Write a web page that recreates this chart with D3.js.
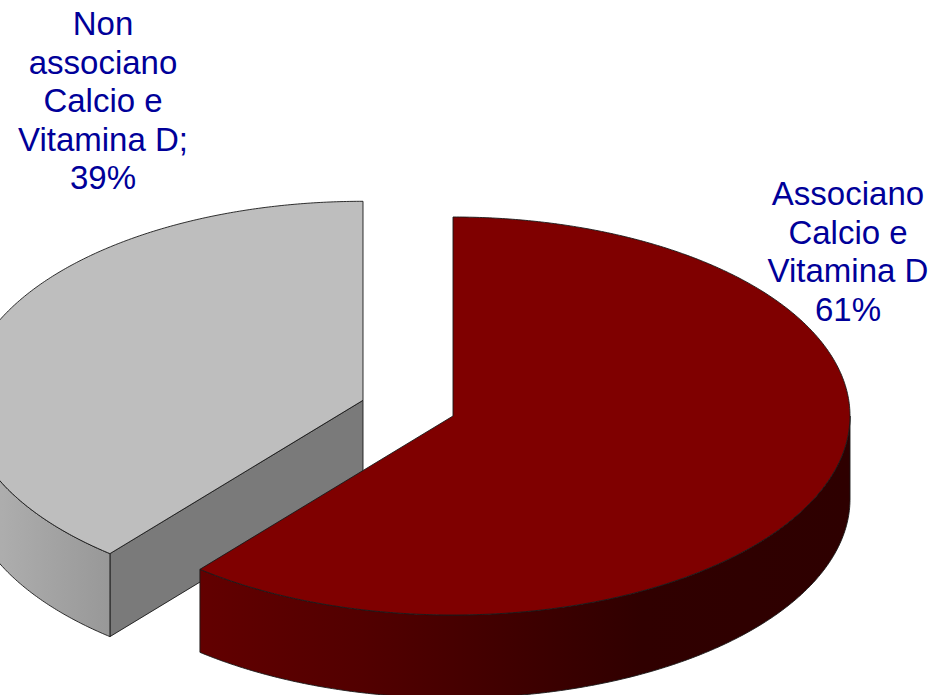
<!DOCTYPE html>
<html>
<head>
<meta charset="utf-8">
<script src="https://cdn.jsdelivr.net/npm/d3@7/dist/d3.min.js"></script>
<style>
html,body{margin:0;padding:0;background:#fff;overflow:hidden}
svg{display:block}
text{font-family:"Liberation Sans",Arial,sans-serif;font-size:33px;fill:#000099;text-anchor:middle}
</style>
</head>
<body>
<script>
// Share of respondents in each group
const categories = ["Associano Calcio e Vitamina D", "Non associano Calcio e Vitamina D"];
const shares = [61, 39];
const labelLines = [
  ["Associano", "Calcio e", "Vitamina D", "61%"],
  ["Non", "associano", "Calcio e", "Vitamina D;", "39%"]
];
const topColors = ["#7f0000", "#bebebe"];
const cutColors = ["#5c0000", "#7a7a7a"];
const wallStops = [
  [[0, "#620000"], [0.25, "#520000"], [0.5, "#3e0000"], [0.68, "#300000"], [1, "#2e0000"]],
  [[0, "#b4b4b4"], [1, "#989898"]]
];

const width = 933, height = 695;
const rx = 397, ry = 199, depth = 83;
const centers = [[453, 416], [363, 400.3]];
const labelAnchors = [[848, 205], [103, 35]];
const lineStep = 38.6;

const svg = d3.select("body").append("svg").attr("width", width).attr("height", height);
const defs = svg.append("defs");

const arcs = d3.pie().sort(null).value(d => d)(shares);

// Tilted-disc projection: angle is clockwise from twelve o'clock
const project = (c, a, dz = 0) => [c[0] + rx * Math.sin(a), c[1] - ry * Math.cos(a) + dz];
const rimPoints = (c, a0, a1, dz = 0) => {
  const n = Math.max(2, Math.ceil(Math.abs(a1 - a0) * 120));
  return d3.range(n + 1).map(i => project(c, a0 + (a1 - a0) * i / n, dz));
};
const line = d3.line();
const outline = { stroke: "#1a1a1a", width: 0.9 };

const style = sel => sel
  .attr("stroke", outline.stroke)
  .attr("stroke-width", outline.width)
  .attr("stroke-linejoin", "round");

// Gray slice first so that the red slice overlaps its cut face
[1, 0].forEach(i => {
  const d = arcs[i], c = centers[i];
  const g = svg.append("g").attr("class", "slice").attr("data-name", categories[i]);

  // Visible part of the outer wall: the front half of the rim only
  const a0 = Math.max(d.startAngle, Math.PI / 2);
  const a1 = Math.min(d.endAngle, 3 * Math.PI / 2);
  const top = rimPoints(c, a0, a1);
  const bottom = rimPoints(c, a1, a0, depth);
  const xs = top.map(p => p[0]);
  const grad = defs.append("linearGradient")
    .attr("id", "wall" + i)
    .attr("gradientUnits", "userSpaceOnUse")
    .attr("x1", d3.min(xs)).attr("x2", d3.max(xs))
    .attr("y1", 0).attr("y2", 0);
  wallStops[i].forEach(s => grad.append("stop").attr("offset", s[0]).attr("stop-color", s[1]));

  // Flat cut face along the slice's clockwise end edge (only the gray one shows)
  if (i === 1) {
    const e = project(c, d.startAngle);
    g.append("path")
      .attr("d", line([c, e, [e[0], e[1] + depth], [c[0], c[1] + depth]]) + "Z")
      .attr("fill", cutColors[i]).call(style);
  }

  g.append("path")
    .attr("d", line(top.concat(bottom)) + "Z")
    .attr("fill", `url(#wall${i})`).call(style);

  g.append("path")
    .attr("d", line([c].concat(rimPoints(c, d.startAngle, d.endAngle))) + "Z")
    .attr("fill", topColors[i]).call(style);
});

// Slice labels
labelLines.forEach((lines, i) => {
  const t = svg.append("text").attr("x", labelAnchors[i][0]).attr("y", labelAnchors[i][1]);
  lines.forEach((s, j) => t.append("tspan")
    .attr("x", labelAnchors[i][0])
    .attr("y", labelAnchors[i][1] + j * lineStep)
    .text(s));
});
</script>
</body>
</html>
